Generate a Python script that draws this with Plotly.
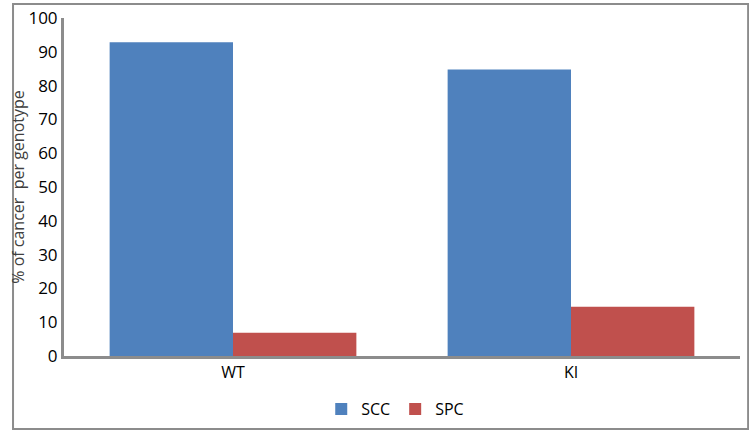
import plotly.graph_objects as go

categories = ["WT", "KI"]
scc = [92.8, 84.8]
spc = [6.9, 14.6]
y_ticks = [0, 10, 20, 30, 40, 50, 60, 70, 80, 90, 100]

fig = go.Figure()
fig.add_trace(go.Bar(name="SCC", x=categories, y=scc, marker=dict(color="#4F81BD", line=dict(width=0))))
fig.add_trace(go.Bar(name="SPC", x=categories, y=spc, marker=dict(color="#C0504D", line=dict(width=0))))

font = "Open Sans, Liberation Sans, sans-serif"
fig.update_layout(
    width=749, height=430,
    margin=dict(l=64, r=9, t=18, b=74, autoexpand=False),
    paper_bgcolor="white", plot_bgcolor="white",
    barmode="group", bargap=0.27, bargroupgap=0,
    font=dict(family=font, size=15, color="black"),
    showlegend=True,
    legend=dict(orientation="h", x=0.49, xanchor="center", y=-0.157, yanchor="middle",
                font=dict(size=16), itemwidth=30, tracegroupgap=0, itemsizing="constant"),
    xaxis=dict(showline=True, linecolor="#8c8c8c", linewidth=3, ticks="", showgrid=False,
               range=[-0.5, 1.5], tickfont=dict(size=16), automargin=False),
    yaxis=dict(range=[0, 100], tickvals=y_ticks, showline=True, linecolor="#8c8c8c", linewidth=3,
               ticks="", showgrid=False, zeroline=False, tickfont=dict(size=17), automargin=False,
               title=dict(text="% of cancer  per genotype", font=dict(size=16, color="#404040"), standoff=0)),
    shapes=[dict(type="rect", xref="paper", yref="paper", x0=-0.0754, x1=1.012, y0=-0.216, y1=1.0414,
                 line=dict(color="#8c8c8c", width=2), layer="below")],
)
fig.write_html("out.html", config={"displayModeBar": False},
               post_script="document.body.style.margin='0';document.body.style.padding='0';")
